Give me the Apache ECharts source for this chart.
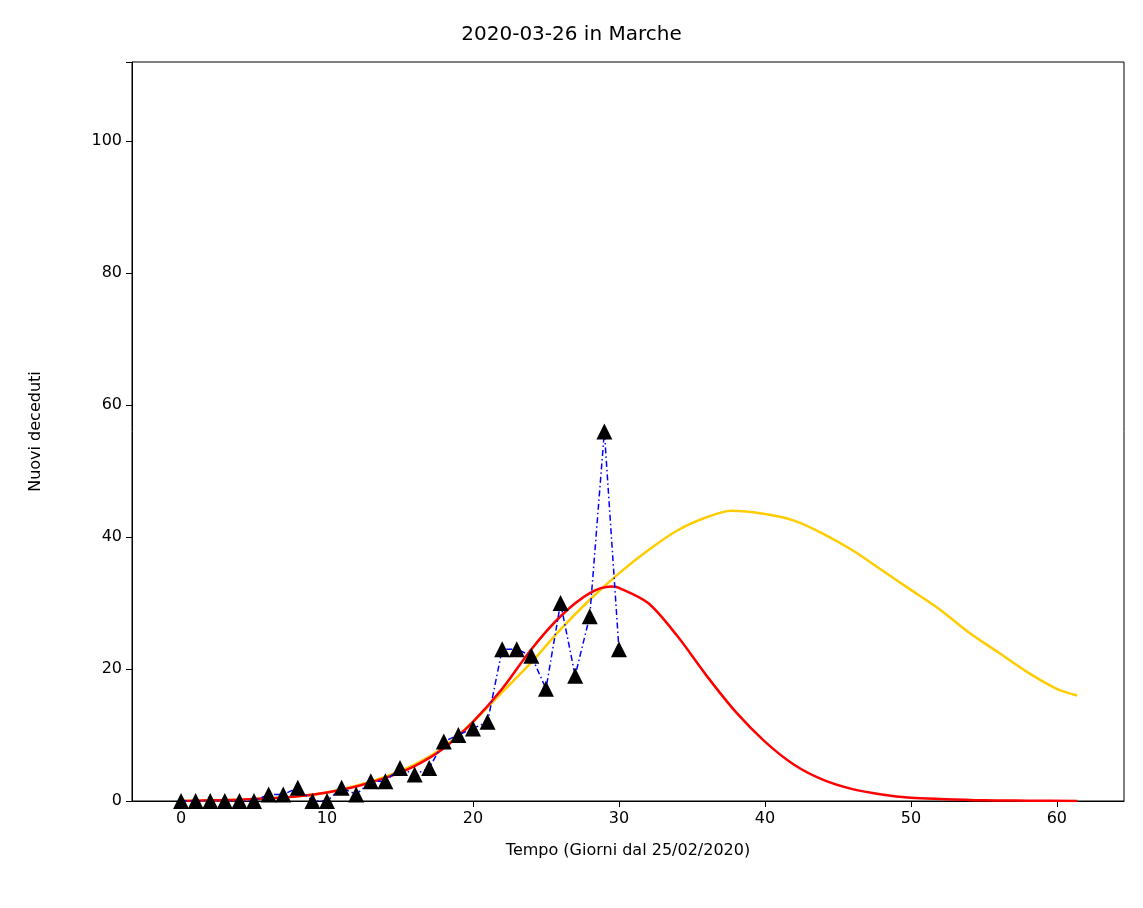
<!DOCTYPE html>
<html><head><meta charset="utf-8">
<script src="https://cdn.jsdelivr.net/npm/echarts@6/dist/echarts.min.js"></script>
<style>html,body{margin:0;background:#fff}#c{width:1143px;height:908px}</style>
</head><body><div id="c"></div>
<script>
// giorni e nuovi deceduti osservati
let days = [];
for (let i = 0; i <= 30; i++) days.push(i);
let deaths = [0,0,0,0,0,0,1,1,2,0,0,2,1,3,3,5,4,5,9,10,11,12,23,23,22,17,30,19,28,56,23];
let xTicks = [0,10,20,30,40,50,60];
// curve di fit
let redX = [0,2,4,6,8,10,12,14,16,18,20,22,24,26,28,29.5,30,32,34,36,38,40,42,44,46,48,50,52,55,58,61.4];
let redY = [0,0.1,0.2,0.4,0.7,1.3,2.2,3.5,5.3,8,12,17,23,28,31.5,32.5,32.3,30,25,19,13.5,9,5.5,3.2,1.8,1,0.5,0.3,0.1,0.05,0];
let yelX = [0,2,4,6,8,10,12,14,16,18,20,22,24,26,28,30,32,34,36,37.7,40,42,44,46,48,50,52,54,56,58,60,61.4];
let yelY = [0,0.1,0.2,0.4,0.7,1.3,2.3,3.7,5.5,8.2,12,16.5,21,26,30.5,34.5,38,41,43,44,43.5,42.5,40.5,38,35,32,29,25.5,22.5,19.5,17,16];

let zip = (a, b) => a.map((v, i) => [v, b[i]]);
let chart = echarts.init(document.getElementById('c'));
let txt = {color: '#000', fontFamily: 'DejaVu Sans', fontSize: 16};
chart.setOption({
    animation: false,
    title: {text: '2020-03-26 in Marche', left: 'center', top: 20,
        textStyle: {color: '#000', fontFamily: 'DejaVu Sans', fontSize: 20, fontWeight: 'normal'}},
    grid: {left: 132, right: 19, top: 62, bottom: 107, show: true, borderColor: '#000', borderWidth: 1},
    xAxis: {type: 'value', min: -3.36, max: 64.6,
        name: 'Tempo (Giorni dal 25/02/2020)', nameLocation: 'middle', nameGap: 42, nameTextStyle: txt,
        axisLabel: Object.assign({customValues: xTicks, margin: 10}, txt),
        axisLine: {onZero: false, lineStyle: {color: '#000'}},
        axisTick: {customValues: xTicks, lineStyle: {color: '#000'}, length: 6},
        splitLine: {show: false}},
    yAxis: {type: 'value', min: 0, max: 112, interval: 20,
        name: 'Nuovi deceduti', nameLocation: 'middle', nameGap: 88, nameTextStyle: txt,
        axisLabel: Object.assign({formatter: v => (v % 20 === 0 ? v : ''), margin: 10}, txt),
        axisLine: {show: true, onZero: false, lineStyle: {color: '#000'}},
        axisTick: {show: true, lineStyle: {color: '#000'}, length: 6},
        splitLine: {show: false}},
    series: [
        {type: 'line', data: zip(yelX, yelY), smooth: 0.3, showSymbol: false, lineStyle: {color: '#ffcc00', width: 2.5}, z: 2},
        {type: 'line', data: zip(redX, redY), smooth: 0.3, showSymbol: false, lineStyle: {color: '#ff0000', width: 2.5}, z: 3},
        {type: 'line', data: zip(days, deaths), symbol: 'triangle', symbolSize: 16,
            itemStyle: {color: '#000'}, lineStyle: {color: '#0000ff', width: 1.5, type: [6, 3, 1.5, 3]}, z: 4}
    ]
});
</script></body></html>
